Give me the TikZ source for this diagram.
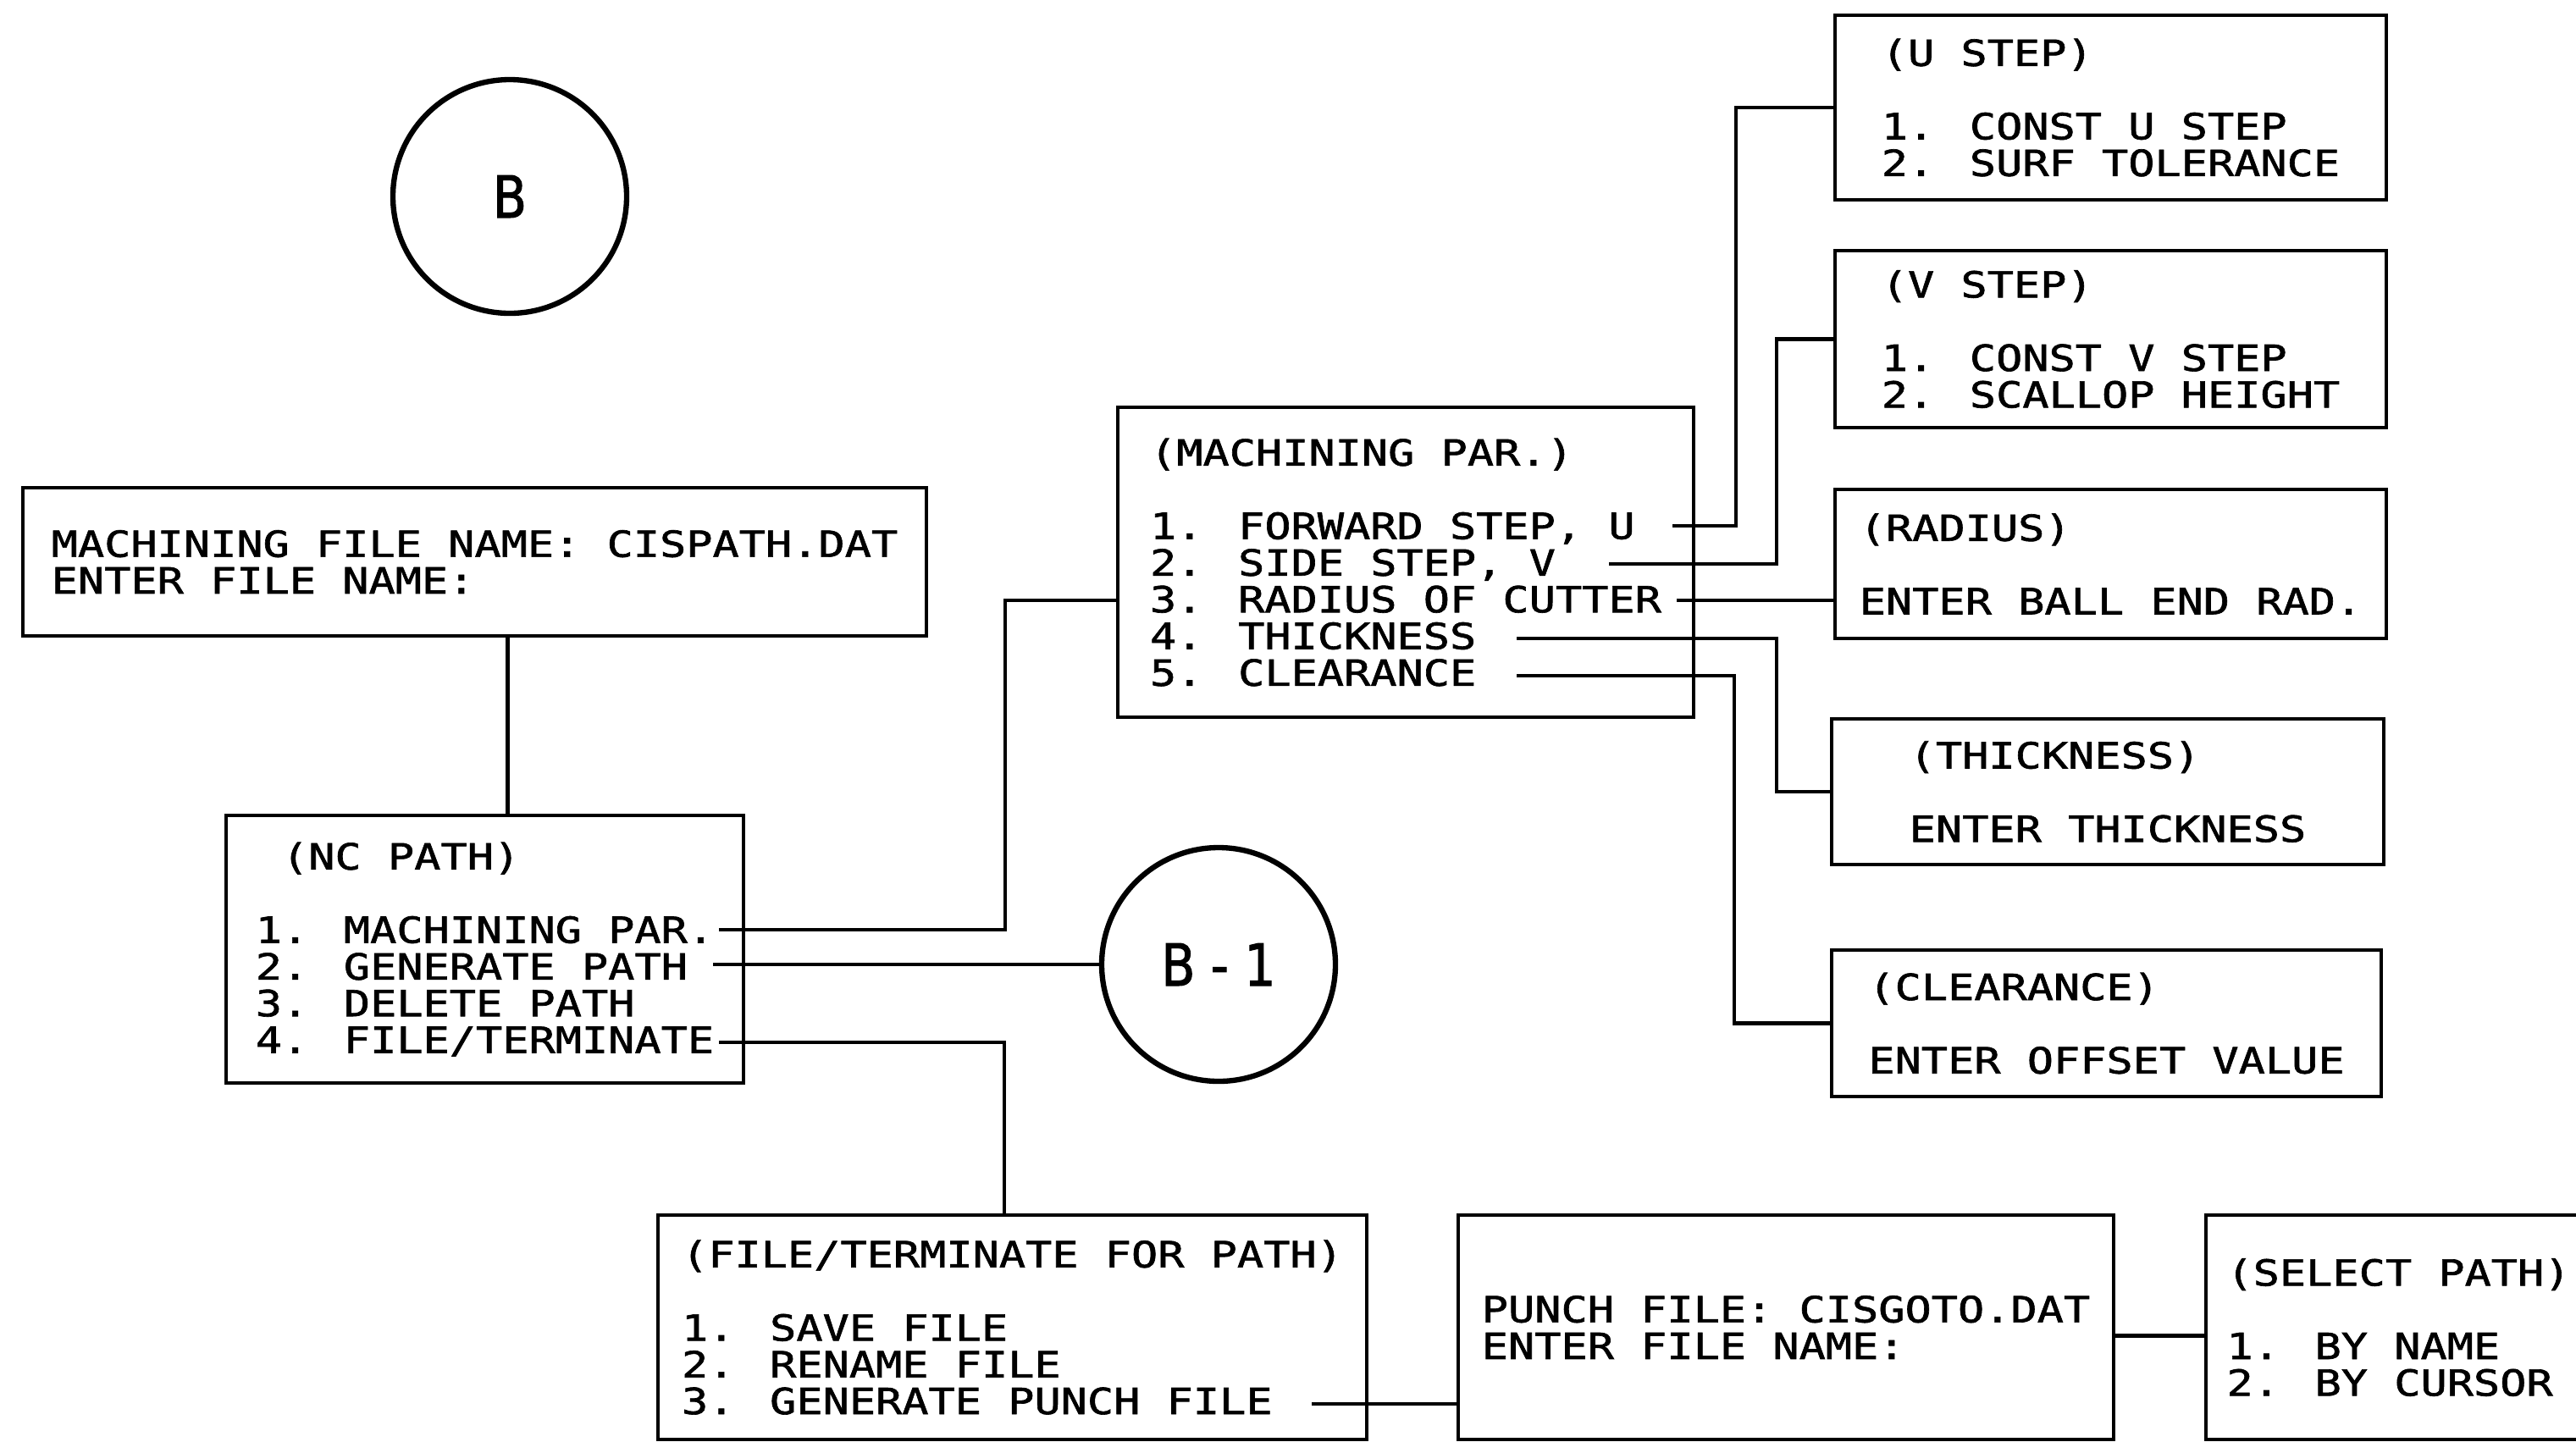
\documentclass[tikz,border=0pt]{standalone}
\usepackage{fontspec}
\usetikzlibrary{calc}
\newfontfamily\plotfam[FakeStretch=1.22,FakeBold=1.5]{DejaVu Sans Mono}
\newfontfamily\ringfam[FakeStretch=0.85,FakeBold=1.5]{DejaVu Sans}
\tikzset{
    every node/.append style={align=left},
    box/.style={rectangle,draw=black,line width=1.3pt,inner sep=0pt,
        font=\plotfam\fontsize{12.1pt}{12.33pt}\selectfont},
    ring/.style={circle,draw=black,line width=1.8pt,inner sep=0pt,minimum size=2.76cm,
        font=\ringfam\fontsize{19.5pt}{20pt}\selectfont},
    link/.style={line width=1.2pt}
}

\begin{document}
\begin{tikzpicture}
    \useasboundingbox (0,0) rectangle (30.42,-17.02);
    \clip (0,0) rectangle (30.42,-17.02);
    \fill[white] (0,0) rectangle (30.42,-17.02);

    \node[ring] (circb)  at ( 6.02,-2.32)  {B};
    \node[ring] (circb1) at (14.39,-11.39) {B - 1};

    \node[box,minimum width=10.67cm,minimum height=1.75cm] (fname) at (5.605,-6.635)
        {MACHINING FILE NAME: CISPATH.DAT\\ENTER FILE NAME:};
    \node[box,minimum width=6.11cm,minimum height=3.16cm] (nc) at (5.725,-11.21)
        {\hphantom{X}(NC PATH)\\[\baselineskip]1. MACHINING PAR.\\2. GENERATE PATH\\3. DELETE PATH\\4. FILE/TERMINATE};
    \node[box,minimum width=6.8cm,minimum height=3.66cm] (mp) at (16.6,-6.64)
        {(MACHINING PAR.)\\[\baselineskip]1. FORWARD STEP, U\\2. SIDE STEP, V\\3. RADIUS OF CUTTER\\4. THICKNESS\\5. CLEARANCE};

    \node[box,minimum width=6.51cm,minimum height=2.18cm] (ustep)  at (24.925,-1.27)
        {(U STEP)\\[\baselineskip]1. CONST U STEP\\2. SURF TOLERANCE};
    \node[box,minimum width=6.51cm,minimum height=2.09cm] (vstep)  at (24.925,-4.005)
        {(V STEP)\\[\baselineskip]1. CONST V STEP\\2. SCALLOP HEIGHT};
    \node[box,minimum width=6.51cm,minimum height=1.76cm] (radius) at (24.925,-6.66)
        {(RADIUS)\\[\baselineskip]ENTER BALL END RAD.};
    \node[box,minimum width=6.52cm,minimum height=1.72cm] (thick)  at (24.89,-9.35)
        {(THICKNESS)\\[\baselineskip]ENTER THICKNESS};
    \node[box,minimum width=6.49cm,minimum height=1.73cm] (clear)  at (24.875,-12.085)
        {(CLEARANCE)\\[\baselineskip]ENTER OFFSET VALUE};

    \node[box,minimum width=8.37cm,minimum height=2.65cm] (ft)     at (11.955,-15.675)
        {(FILE/TERMINATE FOR PATH)\\[\baselineskip]1. SAVE FILE\\2. RENAME FILE\\3. GENERATE PUNCH FILE};
    \node[box,minimum width=7.74cm,minimum height=2.65cm] (punch)  at (21.09,-15.675)
        {PUNCH FILE: CISGOTO.DAT\\ENTER FILE NAME:};
    \node[box,minimum width=4.55cm,minimum height=2.65cm] (select) at (28.325,-15.675)
        {(SELECT PATH)\\[\baselineskip]1. BY NAME\\2. BY CURSOR};

    \coordinate (nc1) at ( 8.49,-10.98);
    \coordinate (nc2) at ( 8.42,-11.39);
    \coordinate (nc4) at ( 8.49,-12.31);
    \coordinate (mp1) at (19.75,-6.21);
    \coordinate (mp2) at (19.00,-6.66);
    \coordinate (mp3) at (19.80,-7.09);
    \coordinate (mp4) at (17.91,-7.54);
    \coordinate (mp5) at (17.91,-7.98);
    \coordinate (ft3) at (15.49,-16.58);

    \draw[link] ([xshift=0.27cm]nc.north) -- ([xshift=0.27cm]nc.north |- fname.south);
    \draw[link] (nc1) -- ++(3.38,0) |- (mp.west |- mp3);
    \draw[link] (nc2) -- (nc2 -| circb1.west);
    \draw[link] (nc4) -| ([xshift=-0.095cm]ft.north);
    \draw[link] (mp1) -| ([xshift=-1.15cm]ustep.west) -- (ustep.west);
    \draw[link] (mp2) -| ([xshift=-0.67cm]vstep.west) -- (vstep.west);
    \draw[link] (mp3) -- (mp3 -| radius.west);
    \draw[link] (mp4) -| ([xshift=-0.63cm]thick.west) -- (thick.west);
    \draw[link] (mp5) -| ([xshift=-1.13cm]clear.west) -- (clear.west);
    \draw[link] (ft3) -- (ft3 -| punch.west);
    \draw[link] ([yshift=-0.1cm]punch.east) -- ([yshift=-0.1cm]select.west);
\end{tikzpicture}
\end{document}
